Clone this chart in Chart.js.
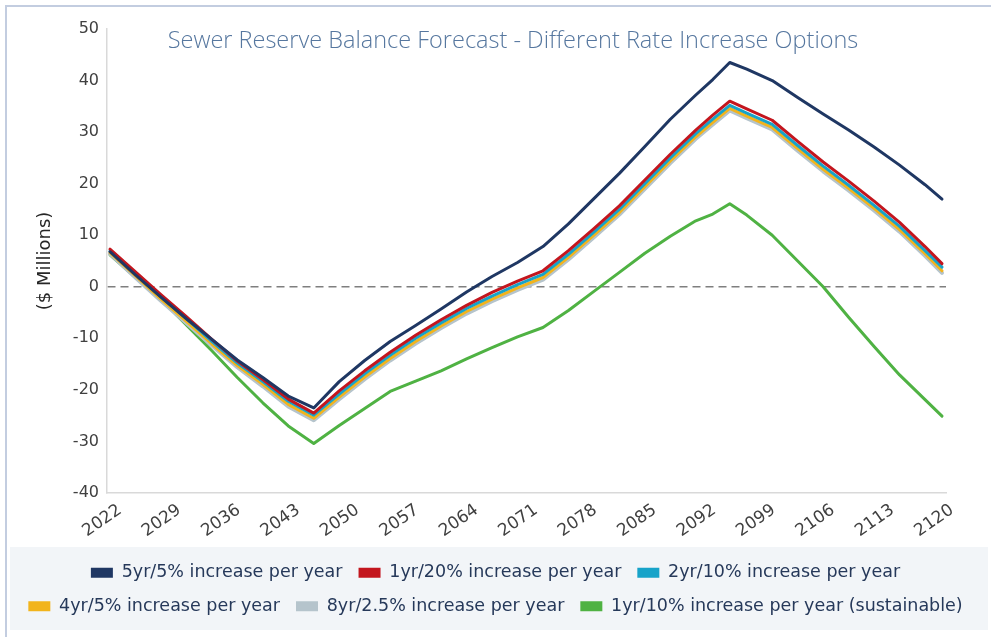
<!DOCTYPE html>
<html>
<head>
<meta charset="utf-8">
<script src="https://cdn.jsdelivr.net/npm/chart.js@4.4.1/dist/chart.umd.min.js"></script>
<style>
  body { margin: 0; background: #fff; }
  #wrap { position: relative; width: 991px; height: 637px; overflow: hidden; background: #fff; }
  #frame { position: absolute; left: 5px; top: 5px; right: -10px; bottom: -10px;
           border-left: 2px solid #c3cde0; border-top: 2px solid #c3cde0; }
  #legendBg { position: absolute; left: 10px; top: 547px; width: 978px; height: 83px; background: #f2f5f8; }
  canvas { position: absolute; left: 0; top: 0; }
</style>
</head>
<body>
<div id="wrap">
  <div id="frame"></div>
  <div id="legendBg"></div>
  <canvas id="chart" width="991" height="637"></canvas>
</div>
<script>
const titleText = 'Sewer Reserve Balance Forecast - Different Rate Increase Options';
const yTitle = '($ Millions)';

const years = [2022, 2025, 2028, 2031, 2034, 2037, 2040, 2043, 2046, 2049, 2052, 2055,
  2058, 2061, 2064, 2067, 2070, 2073, 2076, 2079, 2082, 2085, 2088, 2091, 2093, 2095,
  2097, 2100, 2103, 2106, 2109, 2112, 2115, 2118, 2120];
const tickYears = [2022, 2029, 2036, 2043, 2050, 2057, 2064, 2071, 2078, 2085, 2092, 2099, 2106, 2113, 2120];

const names = [
  '5yr/5% increase per year',
  '1yr/20% increase per year',
  '2yr/10% increase per year',
  '4yr/5% increase per year',
  '8yr/2.5% increase per year',
  '1yr/10% increase per year (sustainable)'
];

const fiveYr5 = [6.8, 2.3, -2.0, -6.2, -10.2, -14.2, -17.6, -21.2, -23.5, -18.4, -14.3, -10.6,
  -7.5, -4.3, -1.0, 2.0, 4.7, 7.8, 12.2, 17.1, 22.0, 27.2, 32.5, 37.2, 40.2, 43.5,
  42.2, 40.0, 36.7, 33.5, 30.4, 27.1, 23.6, 19.8, 17.0];
const oneYr20 = [7.3, 2.9, -1.5, -5.8, -10.2, -14.4, -18.0, -21.8, -24.5, -20.2, -16.3, -12.7,
  -9.4, -6.4, -3.6, -1.1, 1.1, 3.1, 7.0, 11.3, 15.7, 20.7, 25.7, 30.4, 33.3, 36.0,
  34.5, 32.3, 28.2, 24.2, 20.5, 16.6, 12.5, 7.8, 4.5];
const twoYr10 = [6.9, 2.5, -1.9, -6.2, -10.6, -14.8, -18.4, -22.2, -24.9, -20.8, -16.9, -13.3,
  -10.0, -7.0, -4.2, -1.8, 0.4, 2.4, 6.3, 10.6, 15.0, 20.0, 25.0, 29.7, 32.5, 35.2,
  33.7, 31.5, 27.4, 23.4, 19.7, 15.8, 11.7, 7.0, 3.8];
const fourYr5 = [6.6, 2.1, -2.4, -6.7, -11.1, -15.3, -18.9, -22.8, -25.5, -21.4, -17.5, -13.9,
  -10.6, -7.6, -4.8, -2.4, -0.2, 1.8, 5.7, 10.0, 14.4, 19.4, 24.4, 29.1, 31.9, 34.6,
  33.1, 30.9, 26.8, 22.8, 19.1, 15.2, 11.1, 6.4, 3.1];
const eightYr25 = [6.4, 1.8, -2.7, -7.0, -11.4, -15.6, -19.3, -23.2, -25.9, -21.8, -17.9, -14.3,
  -11.0, -8.0, -5.2, -2.8, -0.6, 1.4, 5.3, 9.6, 14.0, 19.0, 24.0, 28.7, 31.5, 34.2,
  32.7, 30.5, 26.4, 22.4, 18.7, 14.8, 10.7, 6.0, 2.7];
const oneYr10 = [6.2, 1.8, -2.4, -7.4, -12.4, -17.6, -22.5, -27.0, -30.4, -26.9, -23.6, -20.3,
  -18.3, -16.3, -14.0, -11.8, -9.7, -7.9, -4.6, -0.9, 2.8, 6.5, 9.8, 12.8, 14.1, 16.1,
  13.9, 10.0, 5.0, 0.0, -5.9, -11.6, -17.1, -21.9, -25.1];

const series = [fiveYr5, oneYr20, twoYr10, fourYr5, eightYr25, oneYr10];
const colors = ['#1f3763', '#c3161e', '#17a3c9', '#f2b41c', '#b5c4cc', '#4fb243'];
const widths = [3, 3, 3, 3, 4, 3];

Chart.defaults.font.family = '"DejaVu Sans", sans-serif';

// title sits inside the plot area, like the original
const titlePlugin = {
  id: 'innerTitle',
  beforeDatasetsDraw(chart) {
    const ctx = chart.ctx;
    ctx.save();
    ctx.font = '300 23.5px "Open Sans", sans-serif';
    ctx.fillStyle = '#56779f';
    ctx.textAlign = 'center';
    ctx.textBaseline = 'middle';
    ctx.fillText(titleText, 513, 41);
    ctx.restore();
  }
};

new Chart(document.getElementById('chart'), {
  type: 'line',
  data: {
    datasets: series.map((vals, i) => ({
      label: names[i],
      data: years.map((x, j) => ({ x, y: vals[j] })),
      borderColor: colors[i],
      backgroundColor: colors[i],
      borderWidth: widths[i],
      pointRadius: 0,
      tension: 0,
      borderJoinStyle: 'round',
      borderCapStyle: 'round'
    }))
  },
  options: {
    responsive: false,
    animation: false,
    layout: { padding: { top: 29, bottom: 12, left: 0, right: 0 } },
    plugins: {
      legend: {
        position: 'bottom',
        labels: {
          color: '#26395a',
          font: { size: 17.5 },
          boxWidth: 22,
          boxHeight: 10,
          padding: 16,
          generateLabels: chart => Chart.defaults.plugins.legend.labels.generateLabels(chart)
            .map(l => ({ ...l, lineWidth: 0 }))
        }
      },
      tooltip: { enabled: false }
    },
    scales: {
      x: {
        type: 'linear',
        min: 2021.65,
        max: 2120.47,
        afterBuildTicks: s => { s.ticks = tickYears.map(v => ({ value: v })); },
        afterFit: s => { s.height = 55; },
        ticks: {
          autoSkip: false,
          color: '#404040',
          font: { size: 17 },
          minRotation: 35,
          maxRotation: 35,
          padding: 7,
          labelOffset: 10,
          callback: v => String(v)
        },
        grid: { display: false, drawTicks: false },
        border: { display: true, color: '#d9d9d9', width: 1.5 }
      },
      y: {
        min: -40,
        max: 50,
        ticks: { stepSize: 10, color: '#404040', font: { size: 16 }, padding: 8 },
        grid: {
          drawTicks: false,
          lineWidth: 1.5,
          color: c => (c.tick && c.tick.value === 0) ? '#7f7f7f' : 'rgba(0,0,0,0)'
        },
        border: { display: true, color: '#d9d9d9', width: 1.5, dash: [8, 5] },
        title: {
          display: true,
          text: yTitle,
          color: '#262626',
          font: { size: 18 },
          padding: { top: 35, bottom: 0 }
        },
        afterFit: s => { s.width = 107; }
      },
      rightGap: {
        position: 'right',
        display: true,
        ticks: { display: false },
        grid: { display: false, drawTicks: false },
        border: { display: false },
        afterFit: s => { s.width = 45; }
      }
    }
  },
  plugins: [titlePlugin]
});
</script>
</body>
</html>
